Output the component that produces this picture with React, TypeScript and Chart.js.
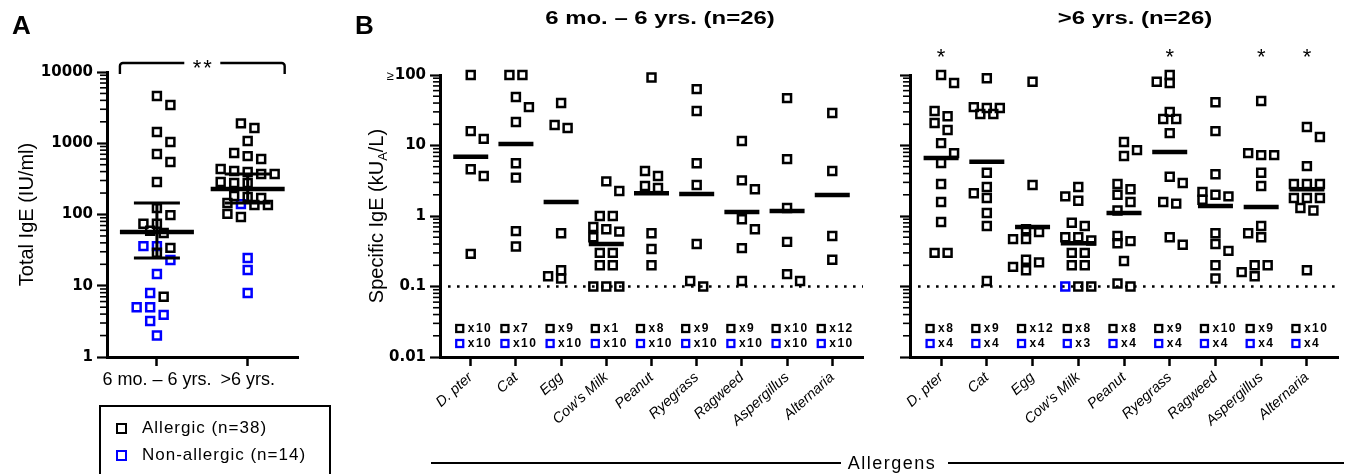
import React, { useEffect, useRef } from 'react';
import { Chart, registerables } from 'chart.js';

Chart.register(...registerables);

// ---------------- Panel A data ----------------
const groupLabels = ['6 mo. – 6 yrs.', '>6 yrs.'];
const yTicksA = ['1', '10', '100', '1000', '10000'];
const allergicYoung = [4600, 3440, 1440, 1040, 707, 545, 286, 123, 98, 74, 74, 59, 55, 34, 29, 7];
const nonAllergicYoung = [36, 36, 23, 14.6, 7.9, 5.0, 5.0, 3.9, 3.2, 2.0];
const allergicOld = [1900, 1640, 1075, 730, 660, 600, 435, 408, 395, 370, 370, 286, 277, 277, 182, 176, 170, 145, 136, 136, 102, 92];
const nonAllergicOld = [140, 24.5, 16.6, 7.9];
const medianA = [57, 228];
const upperA = [145, 370];
const lowerA = [24.5, 145];
const legendLabels = ['Allergic (n=38)', 'Non-allergic (n=14)'];
const significanceA = '**';

// ---------------- Panel B data ----------------
const allergens = ['D. pter', 'Cat', 'Egg', "Cow's Milk", 'Peanut', 'Ryegrass', 'Ragweed', 'Aspergillus', 'Alternaria'];
const yTicksB = ['0.01', '0.1', '1', '10', '100'];
const panelTitles = ['6 mo. – 6 yrs. (n=26)', '>6 yrs. (n=26)'];
const axisTitleB = 'Allergens';

const youngAllergic = [
  [100, 16, 12.4, 4.6, 3.7, 0.29],
  [100, 100, 48.7, 35, 21.5, 5.6, 3.5, 0.61, 0.37],
  [40, 19.5, 17.7, 0.57, 0.17, 0.14, 0.13],
  [3.1, 2.26, 1.0, 1.0, 0.7, 0.65, 0.6, 0.5, 0.3, 0.3, 0.2, 0.2, 0.1, 0.1, 0.1],
  [92, 4.35, 3.7, 2.67, 2.5, 0.57, 0.34, 0.2],
  [63, 30.8, 5.6, 2.75, 0.4, 0.12, 0.1],
  [11.6, 3.2, 2.4, 0.9, 0.65, 0.35, 0.12],
  [47, 6.4, 1.3, 0.43, 0.15, 0.12],
  [28.9, 4.35, 0.52, 0.24],
];
const youngNonAllergic = [[], [], [], [], [], [], [], [], []];
const youngMedians = [6.9, 10.5, 1.58, 0.4, 2.1, 2.05, 1.14, 1.18, 1.99];
const youngBelowAllergic = [10, 7, 9, 1, 8, 9, 9, 10, 12];
const youngBelowNonAllergic = [10, 10, 10, 10, 10, 10, 10, 10, 10];
const youngSignificant = [false, false, false, false, false, false, false, false, false];

const oldAllergic = [
  [100, 77, 30.8, 26, 20.8, 16.6, 10.8, 7.8, 5.65, 2.85, 1.58, 0.82, 0.3, 0.3],
  [90, 35, 34, 34, 28, 28, 4.1, 2.58, 2.1, 1.8, 1.1, 0.72, 0.12],
  [80, 2.75, 0.65, 0.59, 0.47, 0.47, 0.24, 0.22, 0.19, 0.17],
  [2.58, 1.9, 1.65, 0.8, 0.72, 0.5, 0.5, 0.45, 0.3, 0.3, 0.2, 0.2, 0.1, 0.1],
  [11.2, 8.6, 7.1, 2.85, 2.4, 2.0, 1.58, 1.2, 0.52, 0.44, 0.41, 0.23, 0.11, 0.1],
  [100, 80, 77, 30, 23.8, 23.8, 15, 3.6, 2.94, 1.58, 1.5, 0.5, 0.39],
  [41, 16, 3.9, 2.2, 2.0, 1.9, 1.7, 0.57, 0.4, 0.32, 0.2, 0.13],
  [42.8, 7.8, 7.3, 7.3, 4.1, 2.67, 0.72, 0.57, 0.5, 0.2, 0.2, 0.16, 0.14],
  [18.3, 13.2, 5.1, 2.85, 2.85, 2.85, 1.8, 1.8, 1.8, 1.3, 1.2, 0.17],
];
const oldNonAllergic = [[], [], [], [0.1], [], [], [], [], []];
const oldMedians = [6.65, 5.9, 0.7, 0.41, 1.1, 8.1, 1.39, 1.34, 2.4];
const oldBelowAllergic = [8, 9, 12, 8, 8, 9, 10, 9, 10];
const oldBelowNonAllergic = [4, 4, 4, 3, 4, 4, 4, 4, 4];
const oldSignificant = [true, false, false, false, false, true, false, true, true];

// ---------------- helpers ----------------
const BLACK = '#000000';
const BLUE = '#0000ff';
const FONT = '"Liberation Sans", Arial, Helvetica, sans-serif';
const NUMFONT = '"DejaVu Sans", "Liberation Sans", sans-serif';
const H = 474;
const BOTTOM = 357;

const isMajor = (v: number) => Math.abs(Math.log10(v) - Math.round(Math.log10(v))) < 1e-6;

function logTicks(lo: number, hi: number) {
  const t: { value: number }[] = [];
  for (let e = lo; e < hi; e++) for (let m = 1; m < 10; m++) t.push({ value: m * Math.pow(10, e) });
  t.push({ value: Math.pow(10, hi) });
  return t;
}

// simple beeswarm: rows of near-equal values are centred, rows are nudged sideways to limit overlap
function swarmX(chart: any, cx: number, vals: number[], step: number): number[] {
  const xs = chart.scales.x;
  const ys = chart.scales.y;
  const px0 = xs.getPixelForValue(cx);
  const idx = vals.map((_, i) => i).sort((a, b) => vals[b] - vals[a] || a - b);
  const rows: number[][] = [];
  let rowY = -Infinity;
  for (const i of idx) {
    const py = ys.getPixelForValue(vals[i]);
    if (rows.length && Math.abs(py - rowY) < step * 0.45) rows[rows.length - 1].push(i);
    else {
      rows.push([i]);
      rowY = py;
    }
  }
  const near = step * 0.78;
  const placed: { x: number; y: number }[] = [];
  const out: number[] = new Array(vals.length);
  for (const row of rows) {
    const n = row.length;
    const base = row.map((_, j) => (j - (n - 1) / 2) * step);
    const pys = row.map((i) => ys.getPixelForValue(vals[i]));
    let best = 0;
    let bestScore = -Infinity;
    for (let k = 0; k < 5; k++) {
      const s = k === 0 ? 0 : (k % 2 ? 1 : -1) * Math.ceil(k / 2) * (step / 2);
      let minD = Infinity;
      row.forEach((_, j) => {
        placed.forEach((p) => {
          const dx = Math.abs(p.x - (px0 + base[j] + s));
          const dy = Math.abs(p.y - pys[j]);
          if (dx < near && dy < near) minD = Math.min(minD, Math.max(dx, dy));
        });
      });
      if (minD === Infinity) {
        best = s;
        break;
      }
      const score = minD - Math.abs(s) * 0.05;
      if (score > bestScore) {
        bestScore = score;
        best = s;
      }
    }
    row.forEach((i, j) => {
      const px = px0 + base[j] + best;
      placed.push({ x: px, y: pys[j] });
      out[i] = xs.getValueForPixel(px);
    });
  }
  return out;
}

function drawMinorTicks(chart: any) {
  const { ctx, scales, chartArea } = chart;
  const y = scales.y;
  ctx.save();
  ctx.strokeStyle = BLACK;
  ctx.lineWidth = 1.6;
  for (const t of y.ticks) {
    if (isMajor(t.value)) continue;
    const py = y.getPixelForValue(t.value);
    ctx.beginPath();
    ctx.moveTo(chartArea.left - 7, py);
    ctx.lineTo(chartArea.left, py);
    ctx.stroke();
  }
  ctx.restore();
}

function logYScale(lo: number, hi: number, labels: string[] | null, width: number) {
  return {
    type: 'logarithmic',
    min: Math.pow(10, lo),
    max: Math.pow(10, hi),
    afterFit: (s: any) => {
      s.width = width;
    },
    afterBuildTicks: (s: any) => {
      s.ticks = logTicks(lo, hi);
    },
    ticks: {
      autoSkip: false,
      padding: 4,
      color: BLACK,
      font: { family: NUMFONT, weight: 'bold', size: 15 },
      callback: (v: number) => (labels && isMajor(v) ? labels[Math.round(Math.log10(v)) - lo] : ''),
    },
    grid: {
      drawOnChartArea: false,
      drawTicks: true,
      tickLength: 10,
      tickWidth: 2.2,
      tickColor: (c: any) => (c.tick && isMajor(c.tick.value) ? BLACK : 'rgba(0,0,0,0)'),
    },
    border: { display: true, width: 3, color: BLACK },
  };
}

function catXScale(min: number, max: number, labels: string[], rot: number, font: any) {
  return {
    type: 'linear',
    min,
    max,
    afterFit: (s: any) => {
      s.height = H - BOTTOM;
    },
    afterBuildTicks: (s: any) => {
      s.ticks = labels.map((_, i) => ({ value: i + 1 }));
    },
    ticks: {
      autoSkip: false,
      minRotation: rot,
      maxRotation: rot,
      padding: 3,
      color: BLACK,
      font,
      callback: (v: number) => labels[Math.round(v) - 1] ?? '',
    },
    grid: { drawOnChartArea: false, drawTicks: true, tickLength: 9, tickWidth: 2.5, tickColor: BLACK },
    border: { display: true, width: 3, color: BLACK },
  };
}

const squareStyle = (color: string) => ({
  pointStyle: 'rect',
  pointRadius: 5.6,
  pointBorderWidth: 2.5,
  pointBorderColor: color,
  pointBackgroundColor: 'rgba(0,0,0,0)',
  showLine: false,
  clip: false,
});

// ---------------- Panel A ----------------
function makeA(canvas: HTMLCanvasElement) {
  const plugin = {
    id: 'panelA',
    afterDraw(chart: any) {
      const { ctx, scales, chartArea } = chart;
      drawMinorTicks(chart);
      const x1 = scales.x.getPixelForValue(1) - 37;
      const x2 = scales.x.getPixelForValue(2) + 37;
      const mid = (x1 + x2) / 2;
      const yTop = 63;
      const yEnd = 74;
      ctx.save();
      ctx.strokeStyle = BLACK;
      ctx.lineWidth = 2.4;
      ctx.beginPath();
      ctx.moveTo(x1, yEnd);
      ctx.lineTo(x1, yTop + 3);
      ctx.arcTo(x1, yTop, x1 + 3, yTop, 3);
      ctx.lineTo(mid - 18, yTop);
      ctx.moveTo(mid + 18, yTop);
      ctx.lineTo(x2 - 3, yTop);
      ctx.arcTo(x2, yTop, x2, yTop + 3, 3);
      ctx.lineTo(x2, yEnd);
      ctx.stroke();
      ctx.fillStyle = BLACK;
      ctx.font = `22px ${FONT}`;
      ctx.textAlign = 'center';
      ctx.textBaseline = 'alphabetic';
      (ctx as any).letterSpacing = '2px';
      ctx.fillText(significanceA, mid + 1, 75);
      (ctx as any).letterSpacing = '0px';
      ctx.translate(27, (chartArea.top + chartArea.bottom) / 2);
      ctx.rotate(-Math.PI / 2);
      ctx.font = `20px ${FONT}`;
      ctx.textBaseline = 'middle';
      ctx.fillText('Total IgE (IU/ml)', 0, 0);
      ctx.restore();
    },
  };

  const chart = new Chart(canvas, {
    type: 'scatter',
    data: {
      datasets: [
        {
          label: 'median',
          data: medianA.map((y, i) => ({ x: i + 1, y })),
          pointStyle: 'line',
          pointRadius: 37,
          pointBorderWidth: 4.5,
          pointBorderColor: BLACK,
          borderColor: BLACK,
          clip: false,
          order: 0,
        } as any,
        {
          label: 'caps',
          data: [...upperA.map((y, i) => ({ x: i + 1, y })), ...lowerA.map((y, i) => ({ x: i + 1, y }))],
          pointStyle: 'line',
          pointRadius: 23,
          pointBorderWidth: 3,
          pointBorderColor: BLACK,
          borderColor: BLACK,
          clip: false,
          order: 1,
        } as any,
        ...upperA.map(
          (u, i) =>
            ({
              type: 'line',
              label: 'range' + i,
              data: [
                { x: i + 1, y: lowerA[i] },
                { x: i + 1, y: u },
              ],
              borderColor: BLACK,
              borderWidth: 3,
              pointRadius: 0,
              clip: false,
              order: 1,
            } as any)
        ),
        {
          label: legendLabels[0],
          data: [...allergicYoung.map((y) => ({ x: 1, y })), ...allergicOld.map((y) => ({ x: 2, y }))],
          ...squareStyle(BLACK),
          order: 2,
        } as any,
        {
          label: legendLabels[1],
          data: [...nonAllergicYoung.map((y) => ({ x: 1, y })), ...nonAllergicOld.map((y) => ({ x: 2, y }))],
          ...squareStyle(BLUE),
          order: 2,
        } as any,
      ],
    },
    options: {
      responsive: false,
      animation: false,
      events: [],
      layout: { padding: { left: 0, top: 72, right: 9, bottom: 0 } },
      plugins: { legend: { display: false }, tooltip: { enabled: false } },
      scales: {
        x: catXScale(0.45, 2.56, groupLabels, 0, { family: FONT, size: 18 }) as any,
        y: logYScale(0, 4, yTicksA, 107) as any,
      },
    } as any,
    plugins: [plugin],
  });

  const young = swarmX(chart, 1, [...allergicYoung, ...nonAllergicYoung], 13.5);
  const old = swarmX(chart, 2, [...allergicOld, ...nonAllergicOld], 13.5);
  const ds = chart.data.datasets as any[];
  ds[4].data = [
    ...allergicYoung.map((y, i) => ({ x: young[i], y })),
    ...allergicOld.map((y, i) => ({ x: old[i], y })),
  ];
  ds[5].data = [
    ...nonAllergicYoung.map((y, i) => ({ x: young[allergicYoung.length + i], y })),
    ...nonAllergicOld.map((y, i) => ({ x: old[allergicOld.length + i], y })),
  ];
  chart.update('none');
  return chart;
}

// ---------------- Panel B ----------------
function makeB(canvas: HTMLCanvasElement, side: number, canvasLeft: number) {
  const black = side === 0 ? youngAllergic : oldAllergic;
  const blue = side === 0 ? youngNonAllergic : oldNonAllergic;
  const meds = side === 0 ? youngMedians : oldMedians;
  const cntBlack = side === 0 ? youngBelowAllergic : oldBelowAllergic;
  const cntBlue = side === 0 ? youngBelowNonAllergic : oldBelowNonAllergic;
  const stars = side === 0 ? youngSignificant : oldSignificant;

  const plugin = {
    id: 'panelB' + side,
    beforeDatasetsDraw(chart: any) {
      const { ctx, scales, chartArea } = chart;
      const py = scales.y.getPixelForValue(0.1);
      ctx.save();
      ctx.strokeStyle = BLACK;
      ctx.lineWidth = 2.6;
      ctx.setLineDash([2.6, 6.4]);
      ctx.beginPath();
      ctx.moveTo(chartArea.left + 8, py);
      ctx.lineTo(chartArea.right, py);
      ctx.stroke();
      ctx.restore();
    },
    afterDraw(chart: any) {
      const { ctx, scales, chartArea } = chart;
      drawMinorTicks(chart);
      ctx.save();
      const rows = [
        { counts: cntBlack, color: BLACK, y: chartArea.bottom - 28.5 },
        { counts: cntBlue, color: BLUE, y: chartArea.bottom - 13.5 },
      ];
      for (const r of rows) {
        r.counts.forEach((n, i) => {
          const cx = scales.x.getPixelForValue(i + 1);
          ctx.strokeStyle = r.color;
          ctx.lineWidth = 2.3;
          ctx.strokeRect(cx - 14.5, r.y - 3.5, 7, 7);
          ctx.fillStyle = BLACK;
          ctx.font = `bold 12px ${FONT}`;
          ctx.textAlign = 'left';
          ctx.textBaseline = 'middle';
          (ctx as any).letterSpacing = '1.5px';
          ctx.fillText('x' + n, cx - 3, r.y + 0.5);
          (ctx as any).letterSpacing = '0px';
        });
      }
      ctx.fillStyle = BLACK;
      ctx.font = `22px ${FONT}`;
      ctx.textAlign = 'center';
      ctx.textBaseline = 'alphabetic';
      stars.forEach((s, i) => {
        if (s) ctx.fillText('*', scales.x.getPixelForValue(i + 1), 64);
      });
      if (side === 0) {
        ctx.font = `bold 15px ${NUMFONT}`;
        const w = ctx.measureText(yTicksB[yTicksB.length - 1]).width;
        const xr = chartArea.left - 10 - 4 - w - 1;
        ctx.font = `13px ${FONT}`;
        ctx.textAlign = 'right';
        ctx.textBaseline = 'middle';
        ctx.fillText('≥', xr, scales.y.getPixelForValue(100) + 1);
        // y axis title with subscript A
        ctx.save();
        ctx.translate(376 - canvasLeft, (chartArea.top + chartArea.bottom) / 2);
        ctx.rotate(-Math.PI / 2);
        const big = `20px ${FONT}`;
        const small = `13px ${FONT}`;
        const p1 = 'Specific IgE (kU';
        const p2 = 'A';
        const p3 = '/L)';
        ctx.font = big;
        const w1 = ctx.measureText(p1).width;
        const w3 = ctx.measureText(p3).width;
        ctx.font = small;
        const w2 = ctx.measureText(p2).width;
        let x0 = -(w1 + w2 + w3) / 2;
        ctx.textAlign = 'left';
        ctx.textBaseline = 'alphabetic';
        ctx.font = big;
        ctx.fillText(p1, x0, 7);
        x0 += w1;
        ctx.font = small;
        ctx.fillText(p2, x0, 11);
        x0 += w2;
        ctx.font = big;
        ctx.fillText(p3, x0, 7);
        ctx.restore();
      }
      ctx.restore();
    },
  };

  const blackPts: { x: number; y: number }[] = [];
  const bluePts: { x: number; y: number }[] = [];
  black.forEach((arr, i) => arr.forEach((y) => blackPts.push({ x: i + 1, y })));
  blue.forEach((arr, i) => arr.forEach((y) => bluePts.push({ x: i + 1, y })));

  const chart = new Chart(canvas, {
    type: 'scatter',
    data: {
      datasets: [
        {
          label: 'median',
          data: meds.map((y, i) => ({ x: i + 1, y })),
          pointStyle: 'line',
          pointRadius: 17.5,
          pointBorderWidth: 4.5,
          pointBorderColor: BLACK,
          borderColor: BLACK,
          clip: false,
          order: 0,
        } as any,
        { label: 'Allergic', data: blackPts, ...squareStyle(BLACK), order: 2 } as any,
        { label: 'Non-allergic', data: bluePts, ...squareStyle(BLUE), order: 1 } as any,
      ],
    },
    options: {
      responsive: false,
      animation: false,
      events: [],
      layout: { padding: { left: 0, top: 75, right: side === 0 ? 2 : 5, bottom: 0 } },
      plugins: { legend: { display: false }, tooltip: { enabled: false } },
      scales: {
        x: catXScale(0.32, 9.68, allergens, 42, { family: FONT, size: 14.5, style: 'italic' }) as any,
        y: logYScale(-2, 2, side === 0 ? yTicksB : null, side === 0 ? 100 : 25) as any,
      },
    } as any,
    plugins: [plugin],
  });

  const bx: { x: number; y: number }[] = [];
  const ux: { x: number; y: number }[] = [];
  black.forEach((arr, i) => {
    const all = [...blue[i], ...arr];
    const xs = swarmX(chart, i + 1, all, 13);
    blue[i].forEach((y, j) => ux.push({ x: xs[j], y }));
    arr.forEach((y, j) => bx.push({ x: xs[blue[i].length + j], y }));
  });
  const ds = chart.data.datasets as any[];
  ds[1].data = bx;
  ds[2].data = ux;
  chart.update('none');
  return chart;
}

// ---------------- App ----------------
export default function App() {
  const aRef = useRef<HTMLCanvasElement>(null);
  const bLRef = useRef<HTMLCanvasElement>(null);
  const bRRef = useRef<HTMLCanvasElement>(null);

  useEffect(() => {
    const charts: Chart[] = [];
    if (aRef.current) charts.push(makeA(aRef.current));
    if (bLRef.current) charts.push(makeB(bLRef.current, 0, 340));
    if (bRRef.current) charts.push(makeB(bRRef.current, 1, 885));
    return () => charts.forEach((c) => c.destroy());
  }, []);

  const abs = (s: React.CSSProperties): React.CSSProperties => ({ position: 'absolute', ...s });
  const title = (cx: number, text: string) => (
    <div
      style={abs({
        left: cx,
        top: 8,
        transform: 'translateX(-50%) scaleX(1.33)',
        font: `bold 18px ${FONT}`,
        lineHeight: '20px',
        whiteSpace: 'nowrap',
        color: BLACK,
      })}
    >
      {text}
    </div>
  );
  const sq = (color: string): React.CSSProperties => ({
    width: 11,
    height: 11,
    boxSizing: 'border-box',
    border: `2.6px solid ${color}`,
  });

  return (
    <div
      style={abs({
        left: 0,
        top: 0,
        width: 1360,
        height: H,
        overflow: 'hidden',
        background: '#fff',
        fontFamily: FONT,
        color: BLACK,
      })}
    >
      <canvas ref={aRef} width={340} height={H} style={abs({ left: 0, top: 0 })} />
      <canvas ref={bLRef} width={545} height={H} style={abs({ left: 340, top: 0 })} />
      <canvas ref={bRRef} width={475} height={H} style={abs({ left: 885, top: 0 })} />

      <div style={abs({ left: 12, top: 12, font: `bold 26px ${FONT}`, lineHeight: '26px' })}>A</div>
      <div style={abs({ left: 355, top: 12, font: `bold 26px ${FONT}`, lineHeight: '26px' })}>B</div>
      {title(660, panelTitles[0])}
      {title(1135, panelTitles[1])}

      <div
        style={abs({
          left: 99,
          top: 405,
          width: 232,
          height: 90,
          boxSizing: 'border-box',
          border: `2px solid ${BLACK}`,
        })}
      />
      <div style={abs({ left: 116, top: 423, ...sq(BLACK) })} />
      <div style={abs({ left: 116, top: 450, ...sq(BLUE) })} />
      <div style={abs({ left: 142, top: 418, font: `17px ${FONT}`, lineHeight: '20px', letterSpacing: '1px', whiteSpace: 'nowrap' })}>
        {legendLabels[0]}
      </div>
      <div style={abs({ left: 142, top: 445, font: `17px ${FONT}`, lineHeight: '20px', letterSpacing: '1px', whiteSpace: 'nowrap' })}>
        {legendLabels[1]}
      </div>

      <div style={abs({ left: 431, top: 462, width: 410, height: 0, borderTop: `2.5px solid ${BLACK}` })} />
      <div style={abs({ left: 948, top: 462, width: 396, height: 0, borderTop: `2.5px solid ${BLACK}` })} />
      <div
        style={abs({
          left: 892,
          top: 452,
          transform: 'translateX(-50%)',
          font: `18px ${FONT}`,
          lineHeight: '22px',
          letterSpacing: '1.5px',
          whiteSpace: 'nowrap',
        })}
      >
        {axisTitleB}
      </div>
    </div>
  );
}
